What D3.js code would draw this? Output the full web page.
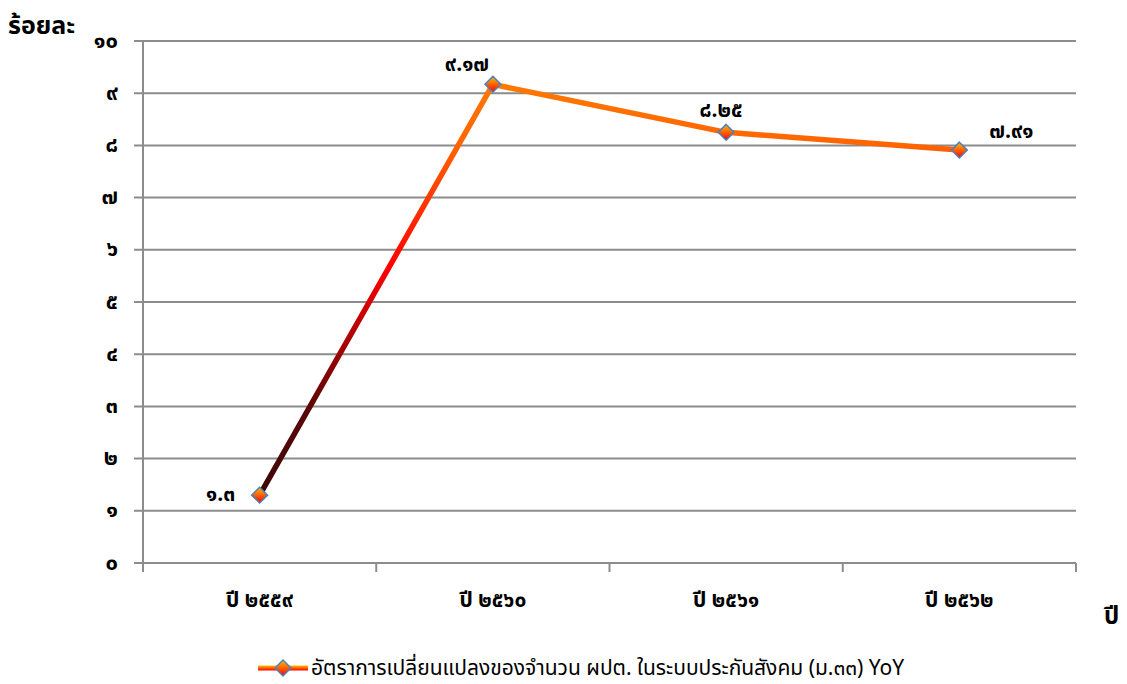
<!DOCTYPE html>
<html><head><meta charset="utf-8">
<script src="https://cdn.jsdelivr.net/npm/d3@7"></script>
<style>
html,body{margin:0;padding:0;background:#fff;}
svg{display:block;font-family:"Noto Sans Thai","Noto Sans","Tahoma",sans-serif;}
</style></head>
<body><svg id="c" width="1127" height="684"></svg>
<script>
const categories = ["ปี ๒๕๕๙", "ปี ๒๕๖๐", "ปี ๒๕๖๑", "ปี ๒๕๖๒"];
const values = [1.3, 9.17, 8.25, 7.91];
const valueLabels = ["๑.๓", "๙.๑๗", "๘.๒๕", "๗.๙๑"];
const yTicks = [0,1,2,3,4,5,6,7,8,9,10];
const yTickLabels = ["๐","๑","๒","๓","๔","๕","๖","๗","๘","๙","๑๐"];
const seriesName = "อัตราการเปลี่ยนแปลงของจำนวน ผปต. ในระบบประกันสังคม (ม.๓๓) YoY";
const yTitle = "ร้อยละ";
const xTitle = "ปี";

const svg = d3.select("#c");
const L = 143, R = 1076, T = 41, B = 563;
const x = d3.scaleBand().domain(categories).range([L, R]);
const y = d3.scaleLinear().domain([0, 10]).range([B, T]);
const grid = "#8c8c8c";

const defs = svg.append("defs");
const lg = defs.append("linearGradient").attr("id","lineGrad")
  .attr("gradientUnits","userSpaceOnUse").attr("x1",0).attr("x2",0)
  .attr("y1", y(values[0])).attr("y2", y(d3.max(values)));
[[0,"#3c0808"],[0.22,"#5e0606"],[0.55,"#ff0000"],[0.85,"#ff6400"],[1,"#ff7800"]]
  .forEach(([o,c])=>lg.append("stop").attr("offset",o).attr("stop-color",c));
const mg = defs.append("linearGradient").attr("id","markGrad")
  .attr("x1",0).attr("x2",0).attr("y1",0).attr("y2",1);
[[0,"#ffc000"],[1,"#ff0000"]].forEach(([o,c])=>mg.append("stop").attr("offset",o).attr("stop-color",c));
const leg = defs.append("linearGradient").attr("id","legGrad")
  .attr("x1",0).attr("x2",0).attr("y1",0).attr("y2",1);
[[0,"#ffc000"],[0.5,"#ff6400"],[1,"#ff0000"]].forEach(([o,c])=>leg.append("stop").attr("offset",o).attr("stop-color",c));

// gridlines
svg.append("g").selectAll("line").data(yTicks).join("line")
  .attr("x1", L - 9).attr("x2", R).attr("y1", d=>y(d)).attr("y2", d=>y(d))
  .attr("stroke", grid).attr("stroke-width", 2);
// y axis line
svg.append("line").attr("x1",L).attr("x2",L).attr("y1",T).attr("y2",B+9)
  .attr("stroke",grid).attr("stroke-width",2);
// x tick marks at band edges
const edges = categories.map(c=>x(c)).concat([R]);
svg.append("g").selectAll("line").data(edges.slice(1)).join("line")
  .attr("x1",d=>d).attr("x2",d=>d).attr("y1",B).attr("y2",B+9)
  .attr("stroke",grid).attr("stroke-width",2);

// y tick labels
svg.append("g").selectAll("text").data(yTicks).join("text")
  .attr("x", 118).attr("y", d=>y(d)).attr("dy","0.3em")
  .attr("text-anchor","end").attr("font-size",22).attr("font-weight","bold")
  .attr("fill","#000").text((d,i)=>yTickLabels[i]);
// x labels
svg.append("g").selectAll("text").data(categories).join("text")
  .attr("x", d=>x(d)+x.bandwidth()/2).attr("y", 607)
  .attr("text-anchor","middle").attr("font-size",21).attr("font-weight","bold")
  .text(d=>d);

// titles
svg.append("text").attr("x",8).attr("y",34).attr("font-size",25).attr("font-weight","bold").text(yTitle);
svg.append("text").attr("x",1104).attr("y",624).attr("font-size",24).attr("font-weight","bold").text(xTitle);

// line
const pts = categories.map((c,i)=>[x(c)+x.bandwidth()/2, y(values[i])]);
svg.append("path").attr("d", d3.line()(pts)).attr("fill","none")
  .attr("stroke","url(#lineGrad)").attr("stroke-width",5.5).attr("stroke-linejoin","round");

// markers
const diamond = d3.symbol().type(d3.symbolDiamond2).size(160);
svg.append("g").selectAll("path").data(pts).join("path")
  .attr("transform", d=>`translate(${d[0]},${d[1]})`)
  .attr("d", diamond()).attr("fill","url(#markGrad)")
  .attr("stroke","#4f81bd").attr("stroke-width",1.5);

// data labels
const labelOffsets = [[-39,-1],[-26,-21],[-5,-23],[52,-19]];
svg.append("g").selectAll("text").data(pts).join("text")
  .attr("x",(d,i)=>d[0]+labelOffsets[i][0]).attr("y",(d,i)=>d[1]+labelOffsets[i][1])
  .attr("dy","0.35em").attr("text-anchor","middle")
  .attr("font-size",21).attr("font-weight","bold").text((d,i)=>valueLabels[i]);

// legend
const ly = 668;
svg.append("rect").attr("x",258).attr("y",ly-2.5).attr("width",50).attr("height",5).attr("fill","url(#legGrad)");
svg.append("path").attr("transform",`translate(283,${ly})`).attr("d",diamond())
  .attr("fill","url(#markGrad)").attr("stroke","#4f81bd").attr("stroke-width",1.5);
svg.append("text").attr("x",311).attr("y",ly).attr("dy","0.35em").attr("font-size",21).text(seriesName);
</script></body></html>
